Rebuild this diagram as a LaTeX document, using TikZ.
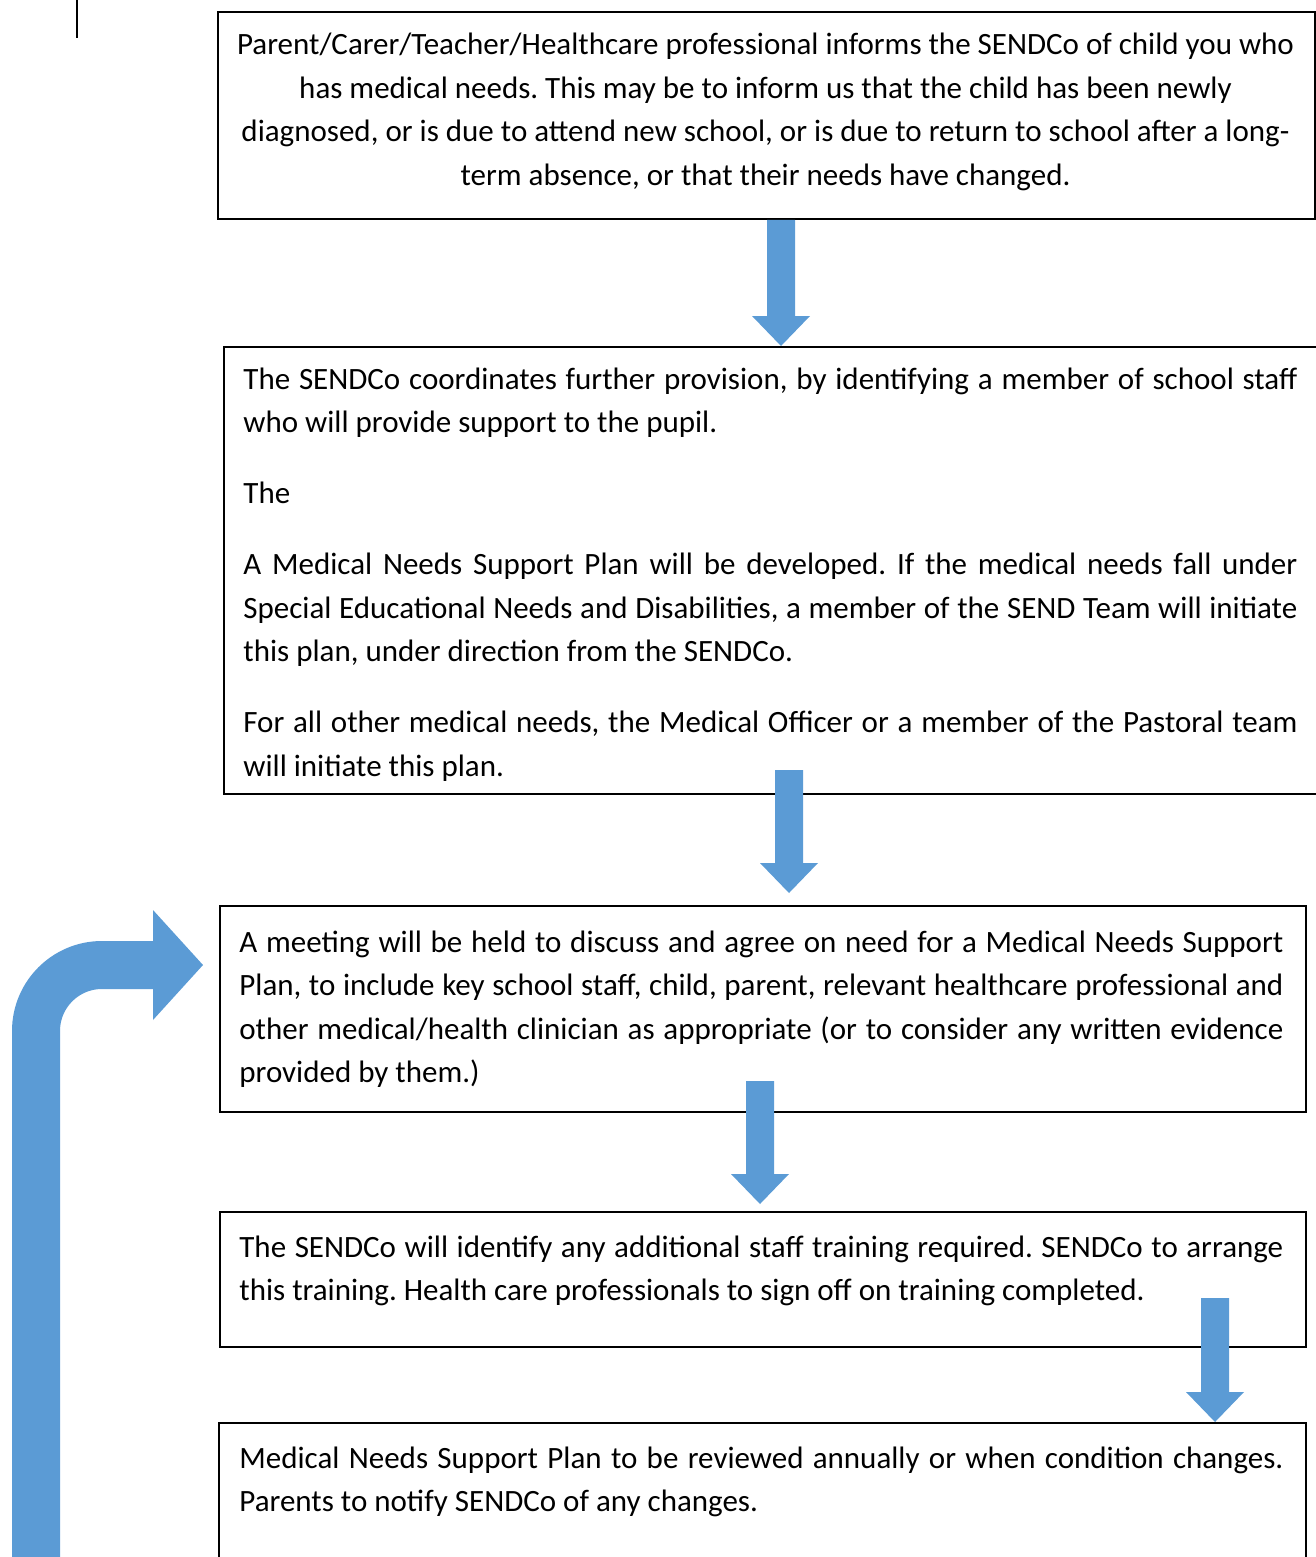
\documentclass[tikz,border=0pt]{standalone}
\usepackage{fontspec}
\setmainfont{Carlito}
\usetikzlibrary{positioning,calc}
\definecolor{arrowblue}{RGB}{91,155,213}

\begin{document}
\begin{tikzpicture}[% one unit = one pixel of the page, y pointing down
		x=0.5pt,y=-0.5pt,
		every node/.style={inner sep=0pt},
		box/.style={rectangle,draw=black,line width=1pt,anchor=north west},
		txt/.style={
			font=\fontsize{15.5}{21.75}\selectfont,
			execute at begin node={\frenchspacing\setlength{\parindent}{0pt}\setlength{\parskip}{13.75pt}}
		},
		blockarr/.style={draw=none,fill=arrowblue,% broad arrow, shaft 14pt, head 29pt
			to path={($(\tikztostart)+(-7pt,0)$) -- ($(\tikztotarget)+(-7pt,15pt)$)
				-- ($(\tikztotarget)+(-14.5pt,15pt)$) -- (\tikztotarget)
				-- ($(\tikztotarget)+(14.5pt,15pt)$) -- ($(\tikztotarget)+(7pt,15pt)$)
				-- ($(\tikztostart)+(7pt,0)$) -- cycle}
		},
		loopline/.style={draw=arrowblue,line width=24pt,rounded corners=33pt}
	]
	\useasboundingbox (0,0) rectangle (1316,1557);
	\draw[line width=1pt] (77,0) -- (77,38);
	% boxes
	\node[box,minimum width=548.5pt,minimum height=103.5pt](R1) at (217,11) {};
	\node[box,minimum width=553.5pt,minimum height=223.5pt](R2) at (223,346) {};
	\node[box,minimum width=543pt,minimum height=103pt](R3) at (219,905) {};
	\node[box,minimum width=543pt,minimum height=67.5pt](R4) at (219,1211) {};
	\node[box,minimum width=543.5pt,minimum height=80pt](R5) at (218,1422) {};
	% texts
	\node[txt,anchor=base,text width=548pt,align=flush center](T1) at (765.5,55)
		{Parent/Carer/Teacher/Healthcare professional informs the SENDCo of child you who\\
		has medical needs. This may be to inform us that the child has been newly\\
		diagnosed, or is due to attend new school, or is due to return to school after a long-\\
		term absence, or that their needs have changed.};
	\node[txt,anchor=base west,text width=527pt,align=justify](T2) at (243,389)
		{The SENDCo coordinates further provision, by identifying a member of school staff\linebreak
		who will provide support to the pupil.\par
		The\par
		A Medical Needs Support Plan will be developed. If the medical needs fall under\linebreak
		Special Educational Needs and Disabilities, a member of the SEND Team will initiate\linebreak
		this plan, under direction from the SENDCo.\par
		For all other medical needs, the Medical Officer or a member of the Pastoral team\linebreak
		will initiate this plan.};
	\node[txt,anchor=base west,text width=522pt,align=justify](T3) at (239,952)
		{A meeting will be held to discuss and agree on need for a Medical Needs Support\linebreak
		Plan, to include key school staff, child, parent, relevant healthcare professional and\linebreak
		other medical/health clinician as appropriate (or to consider any written evidence\linebreak
		provided by them.)};
	\node[txt,anchor=base west,text width=522pt,align=justify](T4) at (239,1257)
		{The SENDCo will identify any additional staff training required. SENDCo to arrange\linebreak
		this training. Health care professionals to sign off on training completed.};
	\node[txt,anchor=base west,text width=522pt,align=justify](T5) at (239,1468)
		{Medical Needs Support Plan to be reviewed annually or when condition changes.\linebreak
		Parents to notify SENDCo of any changes.};
	% arrows
	\path
	(R1.south -| 781,0) edge[blockarr] (R2.north -| 781,0)
	([yshift=12.5pt]R2.south -| 789,0) edge[blockarr] ([yshift=6pt]R3.north -| 789,0)
	([yshift=16pt]R3.south -| 760,0) edge[blockarr] ([yshift=3.5pt]R4.north -| 760,0)
	([yshift=25pt]R4.south -| 1215,0) edge[blockarr] (R5.north -| 1215,0)
	;
	% review loop back to the meeting
	\coordinate (L1) at (36,1600);
	\coordinate (L2) at (203,965);
	\draw[loopline] (L1) |- ([xshift=-25pt]L2);
	\fill[arrowblue] ([xshift=-25pt,yshift=27.5pt]L2) -- (L2) -- ([xshift=-25pt,yshift=-27.5pt]L2) -- cycle;
\end{tikzpicture}
\end{document}
